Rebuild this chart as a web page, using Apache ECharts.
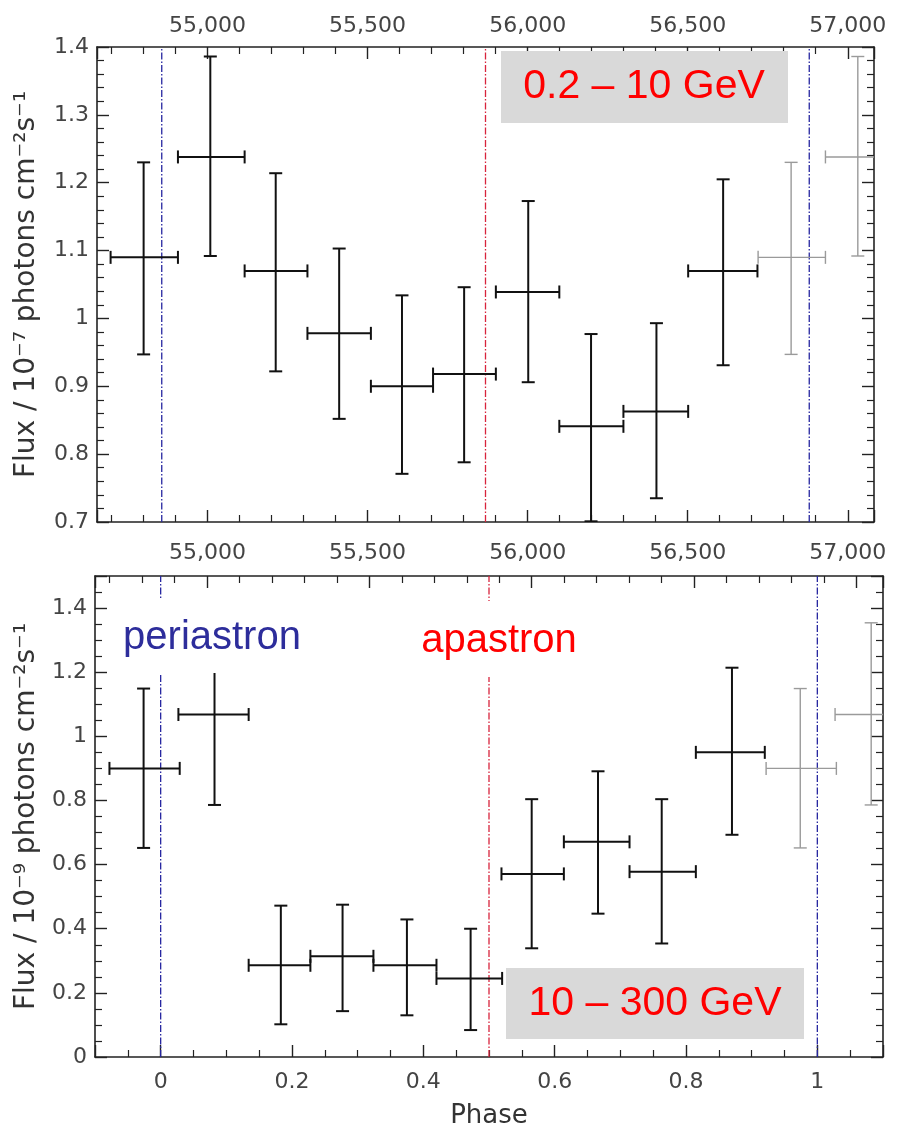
<!DOCTYPE html>
<html>
<head>
<meta charset="utf-8">
<script src="https://cdn.jsdelivr.net/npm/echarts@6/dist/echarts.min.js"></script>
<style>
  html, body { margin: 0; padding: 0; background: #fff; }
  #chart { width: 903px; height: 1130px; }
</style>
</head>
<body>
<div id="chart"></div>
<script>
// phase range shown on both panels, and MJD conversion for the top axes
const phaseRange = [-0.1, 1.1];
const t0 = 54857;      // MJD of periastron (phase 0)
const period = 2022.7; // days
const markerPhases = [0, 0.5, 1];
const markerColors = ['#2626a0', '#d8243c', '#2626a0'];

// 0.2 - 10 GeV
const topPhase   = [-0.028, 0.075, 0.176, 0.274, 0.371, 0.467, 0.566, 0.663, 0.764, 0.867];
const topPhaseLo = [-0.079, 0.025, 0.128, 0.225, 0.323, 0.419, 0.516, 0.614, 0.713, 0.813];
const topPhaseHi = [0.025, 0.128, 0.225, 0.323, 0.419, 0.516, 0.614, 0.713, 0.813, 0.920];
const topFlux    = [1.090, 1.238, 1.070, 0.978, 0.900, 0.918, 1.039, 0.841, 0.863, 1.070];
const topFluxLo  = [0.947, 1.092, 0.922, 0.852, 0.771, 0.788, 0.906, 0.701, 0.735, 0.931];
const topFluxHi  = [1.230, 1.386, 1.214, 1.103, 1.034, 1.046, 1.173, 0.977, 0.993, 1.205];

// 10 - 300 GeV
const botPhase   = [-0.026, 0.082, 0.183, 0.277, 0.375, 0.472, 0.565, 0.666, 0.763, 0.870];
const botPhaseLo = [-0.078, 0.027, 0.134, 0.228, 0.324, 0.420, 0.519, 0.614, 0.714, 0.815];
const botPhaseHi = [0.029, 0.134, 0.228, 0.324, 0.420, 0.520, 0.614, 0.714, 0.815, 0.920];
const botFlux    = [0.900, 1.068, 0.286, 0.314, 0.286, 0.245, 0.571, 0.671, 0.578, 0.950];
const botFluxLo  = [0.652, 0.786, 0.102, 0.143, 0.130, 0.084, 0.339, 0.447, 0.354, 0.693];
const botFluxHi  = [1.149, 1.354, 0.472, 0.475, 0.429, 0.400, 0.804, 0.891, 0.804, 1.214];

// how many of the first bins are repeated (grey) one period later
const nRepeat = 2;

function rows(ph, lo, hi, f, fl, fh) {
  return ph.map((p, i) => [p, lo[i], hi[i], f[i], fl[i], fh[i]]);
}
function repeated(r) {
  return r.slice(0, nRepeat).map(d => [d[0] + 1, d[1] + 1, d[2] + 1, d[3], d[4], d[5]]);
}

const topRows = rows(topPhase, topPhaseLo, topPhaseHi, topFlux, topFluxLo, topFluxHi);
const botRows = rows(botPhase, botPhaseLo, botPhaseHi, botFlux, botFluxLo, botFluxHi);

const mjdMin = t0 + period * phaseRange[0];
const mjdMax = t0 + period * phaseRange[1];

function errorBars(color, width) {
  return function (params, api) {
    const x = api.value(0), xl = api.value(1), xh = api.value(2);
    const y = api.value(3), yl = api.value(4), yh = api.value(5);
    const l = api.coord([xl, y]), r = api.coord([xh, y]);
    const b = api.coord([x, yl]), t = api.coord([x, yh]);
    const cap = 6.5;
    const st = { stroke: color, lineWidth: width };
    const seg = (x1, y1, x2, y2) => ({ type: 'line', shape: { x1, y1, x2, y2 }, style: st });
    return {
      type: 'group',
      children: [
        seg(l[0], l[1], r[0], r[1]),
        seg(b[0], b[1], t[0], t[1]),
        seg(l[0], l[1] - cap, l[0], l[1] + cap),
        seg(r[0], r[1] - cap, r[0], r[1] + cap),
        seg(b[0] - cap, b[1], b[0] + cap, b[1]),
        seg(t[0] - cap, t[1], t[0] + cap, t[1])
      ]
    };
  };
}

function markerLines(yMin, yMax) {
  return function (params, api) {
    const x = api.value(0);
    const a = api.coord([x, yMin]), b = api.coord([x, yMax]);
    return {
      type: 'line',
      shape: { x1: a[0], y1: a[1], x2: b[0], y2: b[1] },
      style: { stroke: markerColors[params.dataIndex], lineWidth: 1.3, lineDash: [7, 2, 1.5, 2] }
    };
  };
}

const frame = { show: true, onZero: false, lineStyle: { color: '#222', width: 1.6 } };
const tick = { show: true, inside: true, length: 12, lineStyle: { color: '#222', width: 1.4 } };
const minor = n => ({ show: true, splitNumber: n, length: 7, lineStyle: { color: '#222', width: 1.2 } });
const labelStyle = { color: '#444', fontSize: 22, fontFamily: 'DejaVu Sans' };
const titleStyle = { color: '#333', fontSize: 28, fontFamily: 'DejaVu Sans' };
const fmtMjd = v => String(Math.round(v)).replace(/\B(?=(\d{3})+(?!\d))/g, ',');

function mjdAxis(grid, pos, showLabel, margin) {
  return {
    type: 'value', gridIndex: grid, position: pos, min: mjdMin, max: mjdMax,
    axisLine: frame, axisTick: tick, minorTick: minor(5), splitLine: { show: false },
    axisLabel: Object.assign({ show: showLabel, margin: margin, formatter: fmtMjd,
      showMinLabel: false, showMaxLabel: false }, labelStyle)
  };
}

const chart = echarts.init(document.getElementById('chart'));

const option = {
  animation: false,
  backgroundColor: '#fff',
  grid: [
    { left: 97, right: 29, top: 47, height: 475 },
    { left: 95, right: 20, top: 576, height: 483 }
  ],
  xAxis: [
    { type: 'value', gridIndex: 0, min: phaseRange[0], max: phaseRange[1], show: false },
    mjdAxis(0, 'top', true, 10),
    mjdAxis(0, 'bottom', true, 20),
    {
      type: 'value', gridIndex: 1, position: 'bottom', min: phaseRange[0], max: phaseRange[1],
      axisLine: frame, axisTick: tick, minorTick: minor(4), splitLine: { show: false },
      axisLabel: Object.assign({ margin: 14, showMinLabel: false, showMaxLabel: false }, labelStyle),
      name: 'Phase', nameLocation: 'middle', nameGap: 46,
      nameTextStyle: { color: '#333', fontSize: 26, fontFamily: 'DejaVu Sans' }
    },
    mjdAxis(1, 'top', false, 10)
  ],
  yAxis: [
    {
      type: 'value', gridIndex: 0, position: 'left', min: 0.7, max: 1.4, interval: 0.1,
      axisLine: frame, axisTick: tick, minorTick: minor(5), splitLine: { show: false },
      axisLabel: Object.assign({ margin: 8 }, labelStyle),
      name: 'Flux / 10⁻⁷ photons cm⁻²s⁻¹', nameLocation: 'middle', nameGap: 56, nameRotate: 90,
      nameTextStyle: titleStyle
    },
    {
      type: 'value', gridIndex: 0, position: 'right', min: 0.7, max: 1.4, interval: 0.1,
      axisLine: frame, axisTick: tick, minorTick: minor(5), splitLine: { show: false },
      axisLabel: { show: false }
    },
    {
      type: 'value', gridIndex: 1, position: 'left', min: 0, max: 1.5, interval: 0.2,
      axisLine: frame, axisTick: tick, minorTick: minor(4), splitLine: { show: false },
      axisLabel: Object.assign({ margin: 8, showMaxLabel: false }, labelStyle),
      name: 'Flux / 10⁻⁹ photons cm⁻²s⁻¹', nameLocation: 'middle', nameGap: 54, nameRotate: 90,
      nameTextStyle: titleStyle
    },
    {
      type: 'value', gridIndex: 1, position: 'right', min: 0, max: 1.5, interval: 0.2,
      axisLine: frame, axisTick: tick, minorTick: minor(4), splitLine: { show: false },
      axisLabel: { show: false }
    }
  ],
  series: [
    {
      type: 'custom', xAxisIndex: 0, yAxisIndex: 0, clip: true, z: 2,
      renderItem: markerLines(0.7, 1.4),
      data: markerPhases.map(p => [p, 0.7]), encode: { x: 0, y: 1 }
    },
    {
      type: 'custom', xAxisIndex: 3, yAxisIndex: 2, clip: true, z: 2,
      renderItem: markerLines(0, 1.5),
      data: markerPhases.map(p => [p, 0]), encode: { x: 0, y: 1 }
    },
    {
      type: 'custom', xAxisIndex: 0, yAxisIndex: 0, clip: true, z: 3,
      renderItem: errorBars('#111', 2),
      data: topRows, encode: { x: [0, 1, 2], y: [3, 4, 5] }
    },
    {
      type: 'custom', xAxisIndex: 0, yAxisIndex: 0, clip: true, z: 3,
      renderItem: errorBars('#9a9a9a', 1.4),
      data: repeated(topRows), encode: { x: [0, 1, 2], y: [3, 4, 5] }
    },
    {
      type: 'custom', xAxisIndex: 3, yAxisIndex: 2, clip: true, z: 3,
      renderItem: errorBars('#111', 2),
      data: botRows, encode: { x: [0, 1, 2], y: [3, 4, 5] }
    },
    {
      type: 'custom', xAxisIndex: 3, yAxisIndex: 2, clip: true, z: 3,
      renderItem: errorBars('#9a9a9a', 1.4),
      data: repeated(botRows), encode: { x: [0, 1, 2], y: [3, 4, 5] }
    }
  ],
  graphic: [
    { type: 'rect', z: 100, shape: { x: 501, y: 51, width: 287, height: 72 }, style: { fill: '#d9d9d9' } },
    { type: 'text', z: 101, x: 644, y: 87,
      style: { text: '0.2 – 10 GeV', fill: '#ff0000', fontSize: 41, fontFamily: 'Liberation Sans',
        align: 'center', verticalAlign: 'middle', textAlign: 'center', textVerticalAlign: 'middle' } },
    { type: 'rect', z: 100, shape: { x: 506, y: 968, width: 298, height: 71 }, style: { fill: '#d9d9d9' } },
    { type: 'text', z: 101, x: 655, y: 1004,
      style: { text: '10 – 300 GeV', fill: '#ff0000', fontSize: 41, fontFamily: 'Liberation Sans',
        align: 'center', verticalAlign: 'middle', textAlign: 'center', textVerticalAlign: 'middle' } },
    { type: 'rect', z: 100, shape: { x: 112, y: 598, width: 200, height: 75 }, style: { fill: '#fff' } },
    { type: 'text', z: 101, x: 212, y: 638,
      style: { text: 'periastron', fill: '#2d2d9b', fontSize: 40, fontFamily: 'Liberation Sans',
        align: 'center', verticalAlign: 'middle', textAlign: 'center', textVerticalAlign: 'middle' } },
    { type: 'rect', z: 100, shape: { x: 410, y: 601, width: 178, height: 76 }, style: { fill: '#fff' } },
    { type: 'text', z: 101, x: 499, y: 641,
      style: { text: 'apastron', fill: '#ff0000', fontSize: 40, fontFamily: 'Liberation Sans',
        align: 'center', verticalAlign: 'middle', textAlign: 'center', textVerticalAlign: 'middle' } }
  ]
};

chart.setOption(option);
</script>
</body>
</html>
